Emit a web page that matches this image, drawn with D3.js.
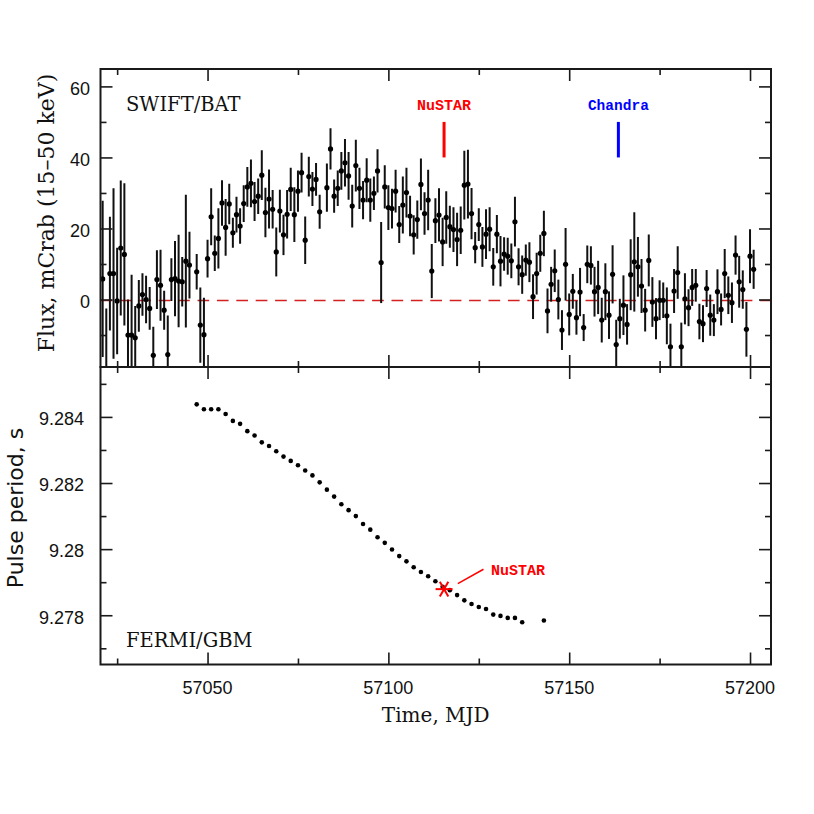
<!DOCTYPE html>
<html><head><meta charset="utf-8">
<script src="https://cdn.jsdelivr.net/npm/d3@7"></script>
<style>body{margin:0;background:#fff}</style>
</head><body><svg id="c" width="814" height="814"></svg>
<script>
// ---- SWIFT/BAT light curve ----
const batMJD = [57021,57022,57023,57024,57025,57026,57027,57028,57029,57030,57031,57032,57033,57034,57035,57036,57037,57038,57039,57040,57041,57042,57043,57044,57045,57047,57048,57049,57050,57051,57052,57053,57054,57055,57056,57057,57058,57059,57060,57061,57062,57063,57064,57065,57066,57067,57068,57069,57070,57071,57072,57073,57074,57075,57076,57077,57078,57079,57080,57081,57083,57084,57085,57086,57087,57088,57089,57090,57091,57092,57093,57094,57095,57096,57097,57098,57099,57100,57101,57102,57103,57104,57105,57106,57107,57108,57109,57110,57111,57112,57113,57114,57115,57116,57117,57118,57119,57120,57121,57122,57123,57124,57125,57126,57127,57128,57129,57130,57131,57132,57133,57134,57135,57136,57137,57138,57139,57140,57141,57142,57143,57144,57145,57146,57147,57148,57149,57150,57151,57152,57153,57154,57155,57156,57157,57158,57159,57160,57161,57162,57163,57164,57165,57166,57167,57168,57169,57170,57171,57172,57173,57174,57175,57176,57177,57178,57179,57180,57181,57182,57183,57184,57185,57186,57187,57188,57189,57190,57191,57192,57193,57194,57195,57196,57197,57198,57199,57200,57201];
const batFlux = [5.8,-22,7.3,7.3,-0.4,14.5,12.7,-10,-10,-10.8,-1.8,1.4,0,-2.5,-15.7,5.6,4.0,-3.0,-15.5,5.6,5.9,5.2,5.0,10.8,9.7,7.8,-7.2,-9.9,11.5,23.3,13,17.2,27.2,20.3,26.9,18.8,23.9,20.7,27,31.7,32.7,27.6,29.1,35,24.5,28.3,25.4,13.4,24.9,18.2,24,31,23.9,30.5,35.7,16.7,34.6,31.1,33.8,24.7,31.5,42.4,29.1,31.3,36.2,38.5,34.8,26.3,37.7,31.3,28,33.6,28,29.9,36.2,10.4,31.7,25.9,25.6,30.5,21.1,26.6,30.1,23.5,18.2,22.5,32.4,24.2,28,8,22.2,23.8,16.2,23.1,20.5,19.7,16.9,19.5,32.2,32.5,24.2,14.6,21.1,14.8,18.4,19.8,9.2,18.4,10.8,12.8,12.2,10.9,21.9,9.2,7.0,11.1,10.5,0.8,7.3,13,18.6,-3.2,4.3,8.1,0,-8.6,9.9,-4.2,2.3,-5.1,2.1,-7.9,9.9,9.6,2.2,3.4,-5.8,2.2,-4.4,7.1,-12.7,-5.4,-1.6,-7,7,10.6,9.2,3.8,-3,11,-0.7,-5.4,-0.2,-0.2,-4.6,-13.3,2.4,7.6,-13.3,0.2,-2.3,3.4,4,-6.2,-6.8,3.1,-4.4,-5.8,2.2,-2.8,7.3,1.2,-0.9,12.5,5,2.8,-8.4,12.2,8.5];
const batErr = [22,19.5,16,24,15,19,20,10,17,9,7.3,6,6.7,6,8,8.3,10,5.5,11,6,10.6,13,7,18.7,9.4,5,10.6,10.4,5.3,8,5,8.5,6.4,8,5.7,4.2,5,5,5.2,5.6,6.7,5.5,5,7,7,8.3,5.4,6.9,6,5.7,6.8,6.1,7.7,5.8,5.6,6.7,5.6,4.8,4.6,4.8,6.8,5.8,4.7,5,5.3,6.7,6.7,6,7.3,5.8,5.4,6.2,6.1,4.7,6.1,11.4,6.1,6.3,5.6,6,5.2,8,7,5.7,5.5,5.4,7.3,6,8.5,7.6,6.3,7.5,6.8,7.4,5.9,6.3,7.5,6.7,9.7,9.7,7.2,4.4,4.6,5.6,7,6.2,5.3,5.4,7.1,4.7,5.2,4.9,7,5.2,5.4,4.4,5.6,6.3,5.9,5.2,6.4,6.3,4.9,6,5.6,5.6,10.2,5.9,4.9,4.8,6.8,3.8,5.3,5.4,7,7.5,6.3,8,6.7,8.2,7,5.6,8.4,5.7,10,14,8.4,7.6,6,7.3,7,5.8,5.6,5,8,6.5,6.2,7.4,6.8,7.2,5.2,5.2,4.6,5,5.2,5.2,5.8,4.5,6.3,4.5,6.9,5.3,5.7,5.5,7.3,5.4,7.7,7.6,5.5];

// ---- FERMI/GBM pulse period ----
const gbmMJD = [57047,57049,57051,57053,57055,57057,57059,57061,57063,57065,57067,57069,57071,57073,57075,57077,57079,57081,57083,57085,57087,57089,57091,57093,57095,57097,57099,57101,57103,57105,57107,57109,57111,57113,57115,57117,57119,57121,57123,57125,57127,57129,57131,57133,57135,57137,57143];
const gbmPeriod = [9.28438,9.28423,9.28423,9.28423,9.28409,9.28388,9.28379,9.28357,9.28344,9.28323,9.28312,9.28296,9.28280,9.28267,9.28254,9.28238,9.28223,9.28202,9.28180,9.28159,9.28136,9.28118,9.28100,9.28076,9.28059,9.28036,9.28019,9.27999,9.27979,9.27963,9.27945,9.27931,9.27918,9.27903,9.27886,9.27876,9.27861,9.27845,9.27834,9.27825,9.27819,9.27802,9.27798,9.27792,9.27792,9.27779,9.27784];

// ---- NuSTAR / Chandra epochs ----
const nustarMJD = [57115.4];
const nustarPeriod = [9.27879];
const chandraMJD = [57163.6];
const obsMarkRange = [40, 50];

// ---- ticks ----
const timeMajor = [57050,57100,57150,57200];
const timeMinor = [57025,57075,57125,57175];
const fluxMajor = [0,20,40,60];
const fluxMinor = [-10,10,30,50];
const periodMajor = [9.278,9.28,9.282,9.284];
const periodMinor = [9.277,9.279,9.281,9.283,9.285];
const periodLabels = ["9.278","9.28","9.282","9.284"];

const svg = d3.select("#c");
const L = 100.5, R = 771, T1 = 69, B1 = 367, T2 = 367, B2 = 664.5;

const x = d3.scaleLinear().domain([57020.4, 57205.8]).range([L, R]);
const yF = d3.scaleLinear().domain([-19.0, 64.9]).range([B1, T1]);
const yP = d3.scaleLinear().domain([9.27651, 9.28551]).range([B2, T2]);

const defs = svg.append("defs");
defs.append("clipPath").attr("id","clipTop").append("rect").attr("x",L).attr("y",T1).attr("width",R-L).attr("height",B1-T1);
defs.append("clipPath").attr("id","clipBot").append("rect").attr("x",L).attr("y",T2).attr("width",R-L).attr("height",B2-T2);

const sansFont = "'Liberation Sans', Arial, Helvetica, sans-serif";
const serifFont = "'DejaVu Serif', serif";
const monoFont = "'Liberation Mono', 'DejaVu Sans Mono', monospace";

// ----- top panel -----
const gTop = svg.append("g").attr("clip-path","url(#clipTop)");
gTop.append("line").attr("x1",L).attr("x2",R).attr("y1",Math.round(yF(0))+0.5).attr("y2",Math.round(yF(0))+0.5)
  .attr("stroke","#d42020").attr("stroke-width",1.3).attr("stroke-dasharray","11.7,7.7");

const bat = batMJD.map((m,i)=>({m, f:batFlux[i], e:batErr[i]}));
gTop.selectAll("line.err").data(bat).join("line").attr("class","err")
  .attr("x1",d=>x(d.m)).attr("x2",d=>x(d.m))
  .attr("y1",d=>yF(d.f-d.e)).attr("y2",d=>yF(d.f+d.e))
  .attr("stroke","#111").attr("stroke-width",2);
gTop.selectAll("circle.pt").data(bat).join("circle").attr("class","pt")
  .attr("cx",d=>x(d.m)).attr("cy",d=>yF(d.f)).attr("r",2.6).attr("fill","#000");

// observation markers
svg.append("line").attr("x1",x(nustarMJD[0])).attr("x2",x(nustarMJD[0]))
  .attr("y1",yF(obsMarkRange[0])).attr("y2",yF(obsMarkRange[1]))
  .attr("stroke","#ff0000").attr("stroke-width",3);
svg.append("text").attr("x",x(nustarMJD[0])).attr("y",yF(54.8)).attr("dy","0.35em")
  .attr("text-anchor","middle").attr("font-family",monoFont).attr("font-weight","bold")
  .attr("font-size",15).attr("fill","#ff0000").text("NuSTAR");
svg.append("line").attr("x1",x(chandraMJD[0])).attr("x2",x(chandraMJD[0]))
  .attr("y1",yF(obsMarkRange[0])).attr("y2",yF(obsMarkRange[1]))
  .attr("stroke","#0000ff").attr("stroke-width",3);
svg.append("text").attr("x",x(chandraMJD[0])).attr("y",yF(54.8)).attr("dy","0.35em")
  .attr("text-anchor","middle").attr("font-family",monoFont).attr("font-weight","bold")
  .attr("font-size",14.5).attr("fill","#0000ff").text("Chandra");

// ----- bottom panel -----
const gBot = svg.append("g").attr("clip-path","url(#clipBot)");
gBot.selectAll("circle.pp").data(gbmMJD.map((m,i)=>({m,p:gbmPeriod[i]}))).join("circle").attr("class","pp")
  .attr("cx",d=>x(d.m)).attr("cy",d=>yP(d.p)).attr("r",2.3).attr("fill","#000");

// NuSTAR star
const sx = x(nustarMJD[0]), sy = yP(nustarPeriod[0]), sr = 8.5;
[0,60,120].forEach(a=>{
  const rad = a*Math.PI/180;
  svg.append("line").attr("x1",sx-sr*Math.cos(rad)).attr("y1",sy-sr*Math.sin(rad))
    .attr("x2",sx+sr*Math.cos(rad)).attr("y2",sy+sr*Math.sin(rad))
    .attr("stroke","#ff0000").attr("stroke-width",2);
});
svg.append("line").attr("x1",x(57119.2)).attr("y1",yP(9.278959))
  .attr("x2",x(57126.3)).attr("y2",yP(9.279392)).attr("stroke","#ff0000").attr("stroke-width",1.5);
svg.append("text").attr("x",x(57128.4)).attr("y",yP(9.27939)).attr("dy","0.35em")
  .attr("font-family",monoFont).attr("font-weight","bold").attr("font-size",15)
  .attr("fill","#ff0000").text("NuSTAR");

// ----- frames & ticks -----
function ticks(gen, tx, ty, vals, len){
  const g = svg.append("g").attr("transform",`translate(${tx},${ty})`)
    .call(gen.tickValues(vals).tickSize(-len).tickFormat(""));
  g.select(".domain").remove();
  g.selectAll(".tick line").attr("stroke","#1a1a1a").attr("stroke-width",1.6);
}
[[T1,B1,yF,fluxMajor,fluxMinor],[T2,B2,yP,periodMajor,periodMinor]].forEach(([t,b,ys,maj,mn])=>{
  ticks(d3.axisBottom(x), 0, b, timeMajor, 12);
  ticks(d3.axisBottom(x), 0, b, timeMinor, 6);
  ticks(d3.axisTop(x), 0, t, timeMajor, 12);
  ticks(d3.axisTop(x), 0, t, timeMinor, 6);
  ticks(d3.axisLeft(ys), L, 0, maj, 12);
  ticks(d3.axisLeft(ys), L, 0, mn, 6);
  ticks(d3.axisRight(ys), R, 0, maj, 12);
  ticks(d3.axisRight(ys), R, 0, mn, 6);
  svg.append("rect").attr("x",L).attr("y",t).attr("width",R-L).attr("height",b-t)
    .attr("fill","none").attr("stroke","#1a1a1a").attr("stroke-width",2);
});

// tick labels
svg.append("g").selectAll("text").data(fluxMajor).join("text")
  .attr("x",90).attr("y",d=>yF(d)+2).attr("dy","0.35em").attr("text-anchor","end")
  .attr("font-family",sansFont).attr("font-size",18).attr("fill","#111").text(d=>d);
svg.append("g").selectAll("text").data(periodMajor).join("text")
  .attr("x",84).attr("y",(d)=>yP(d)+2).attr("dy","0.35em").attr("text-anchor","end")
  .attr("font-family",sansFont).attr("font-size",18).attr("fill","#111").text((d,i)=>periodLabels[i]);
svg.append("g").selectAll("text").data(timeMajor).join("text")
  .attr("x",d=>x(d)).attr("y",694).attr("text-anchor","middle")
  .attr("font-family",sansFont).attr("font-size",18).attr("fill","#111").text(d=>d);

// titles
svg.append("text").attr("x",(L+R)/2).attr("y",722).attr("text-anchor","middle")
  .attr("font-family",serifFont).attr("font-size",20).attr("fill","#111").text("Time, MJD");
svg.append("text").attr("transform","translate(54,213) rotate(-90)").attr("text-anchor","middle")
  .attr("font-family",serifFont).attr("font-size",22).attr("fill","#111").text("Flux, mCrab (15–50 keV)");
svg.append("text").attr("transform","translate(23,508) rotate(-90)").attr("text-anchor","middle")
  .attr("font-family","'DejaVu Sans', sans-serif").attr("font-size",22).attr("fill","#111").text("Pulse period, s");
svg.append("text").attr("x",126).attr("y",110.5)
  .attr("font-family",serifFont).attr("font-size",19.5).attr("fill","#111").text("SWIFT/BAT");
svg.append("text").attr("x",126).attr("y",647)
  .attr("font-family",serifFont).attr("font-size",19.5).attr("fill","#111").text("FERMI/GBM");
</script></body></html>
